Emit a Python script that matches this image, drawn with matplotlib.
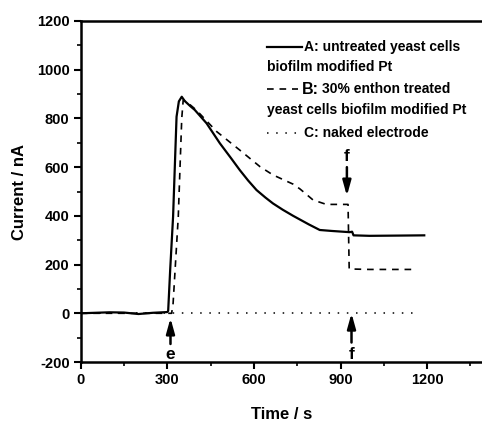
import matplotlib
matplotlib.use("Agg")
import matplotlib.pyplot as plt
from matplotlib.ticker import MultipleLocator
from matplotlib.lines import Line2D

plt.rcParams['font.family'] = ['Liberation Sans', 'DejaVu Sans']
plt.rcParams['font.weight'] = 'bold'
plt.rcParams['axes.unicode_minus'] = False

# curve A: untreated yeast cells biofilm modified Pt
time_a = [0, 50, 100, 150, 200, 250, 300, 303, 310, 320, 332, 340, 350, 360,
          380, 395, 436, 482, 520, 551, 580, 609, 640, 666, 700, 736, 790, 828,
          870, 932, 940, 945, 1000, 1100, 1190]
curr_a = [0, 2, 4, 3, -3, 2, 5, 10, 180, 397, 807, 870, 889, 872,
          850, 835, 780, 698, 638, 588, 545, 506, 475, 451, 425, 400, 365, 342,
          338, 333, 335, 320, 318, 319, 320]

# curve B: 30% enthon treated
time_b = [0, 315, 320, 338, 350, 355, 365, 400, 436, 471, 551, 621, 666, 736,
          760, 805, 851, 920, 926, 930, 1000, 1150]
curr_b = [0, 0, 40, 397, 800, 875, 870, 835, 790, 746, 670, 602, 568, 530,
          510, 465, 447, 447, 447, 182, 180, 180]

# curve C: naked electrode
time_c = [0, 1165]
curr_c = [0, 0]

# arrows (x, tail y, tip y, label y, label, label vertical alignment)
arrows = [(311, -126, -20, -186, 'e', 'baseline'),
          (938, -120, 0, -186, 'f', 'baseline'),
          (922, 600, 482, 643, 'f', 'center')]

fig = plt.figure(figsize=(4.82, 4.29), dpi=100)
ax = fig.add_axes([80.7 / 482, 67 / 429, 401.3 / 482, 341 / 429])

ax.plot(time_a, curr_a, color='black', lw=1.6, solid_joinstyle='round')
ax.plot(time_b, curr_b, color='black', lw=1.2, dashes=(4, 3.5))
ax.plot(time_c, curr_c, color='black', lw=1.1, dashes=(1, 5))

for x, y0, y1, ty, lab, va in arrows:
    ax.annotate('', xy=(x, y1), xytext=(x, y0),
                arrowprops=dict(arrowstyle='-|>,head_length=0.9,head_width=0.25',
                                color='black', lw=1.8, shrinkA=0, shrinkB=0))
    ax.text(x, ty, lab, ha='center', va=va, fontsize=12.5, fontweight='bold')

ax.set_xlim(0, 1390)
ax.set_ylim(-200, 1200)
ax.xaxis.set_major_locator(MultipleLocator(300))
ax.xaxis.set_minor_locator(MultipleLocator(150))
ax.yaxis.set_major_locator(MultipleLocator(200))
ax.yaxis.set_minor_locator(MultipleLocator(100))
ax.tick_params(which='major', direction='out', length=5, width=1.5, labelsize=10.5, pad=3)
ax.tick_params(which='minor', direction='out', length=3, width=1.2)
ax.tick_params(top=False, right=False)
for s in ['left', 'bottom', 'top']:
    ax.spines[s].set_linewidth(1.8)
ax.spines['right'].set_visible(False)
for lab in ax.get_xticklabels() + ax.get_yticklabels():
    lab.set_fontweight('bold')

ax.set_xlabel('Time / s', fontsize=12, fontweight='bold', labelpad=14)
ax.set_ylabel('Current / nA', fontsize=12, fontweight='bold', labelpad=7)

# hand-made legend
tr = ax.transAxes
hx0, hx1, tx, tx2 = 0.4635, 0.5507, 0.5564, 0.465
fs = 10
ax.add_line(Line2D([hx0, hx1], [0.9246, 0.9246], transform=tr, color='black', lw=1.6))
ax.text(tx, 0.9246, 'A: untreated yeast cells', transform=tr, va='center', fontsize=fs)
ax.text(tx2, 0.866, 'biofilm modified Pt', transform=tr, va='center', fontsize=fs)
ax.add_line(Line2D([hx0, hx1 - 0.01], [0.7997, 0.7997], transform=tr, color='black', lw=1.2, dashes=(4, 3.5)))
ax.text(tx - 0.005, 0.7997, 'B:', transform=tr, va='center', fontsize=11.5)
ax.text(tx + 0.045, 0.7997, '30% enthon treated', transform=tr, va='center', fontsize=fs)
ax.text(tx2, 0.739, 'yeast cells biofilm modified Pt', transform=tr, va='center', fontsize=fs)
ax.add_line(Line2D([hx0, hx1 - 0.01], [0.6724, 0.6724], transform=tr, color='black', lw=1.1, dashes=(1, 5)))
ax.text(tx, 0.6724, 'C: naked electrode', transform=tr, va='center', fontsize=fs)

fig.savefig('out.png', dpi=100)
